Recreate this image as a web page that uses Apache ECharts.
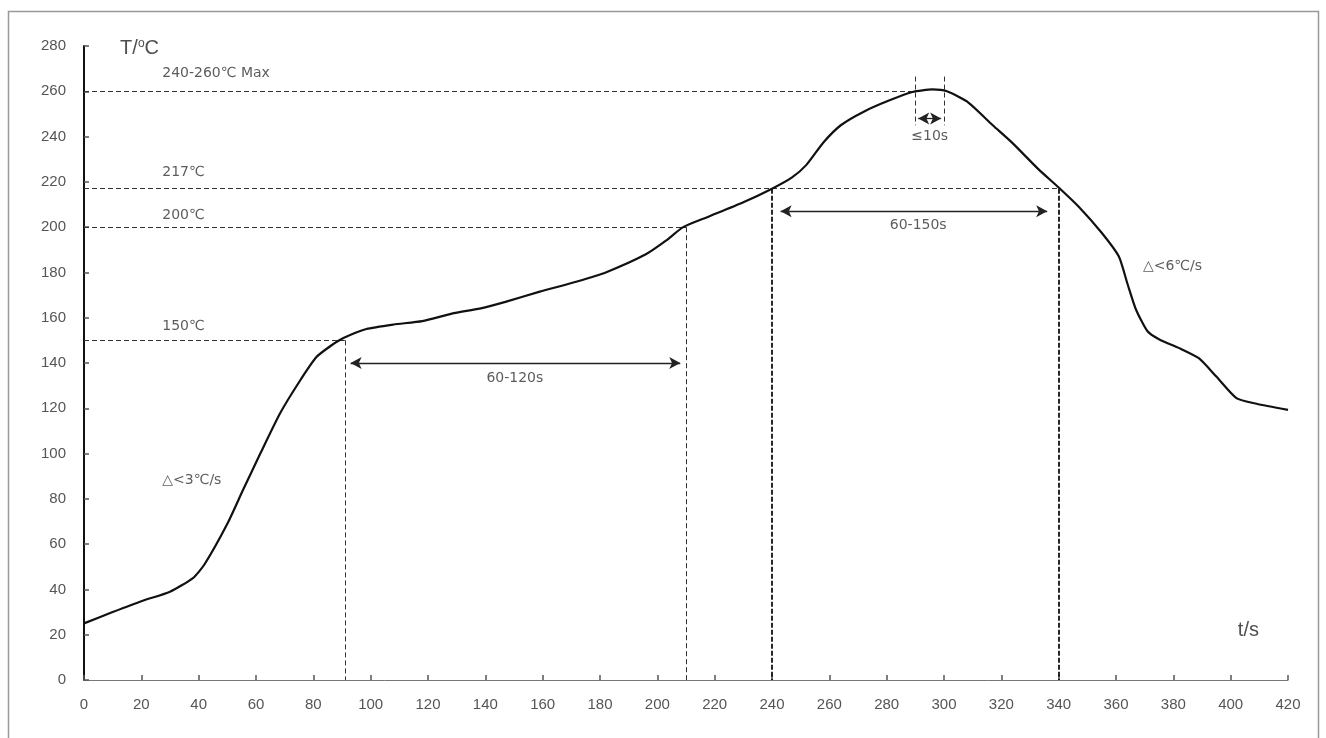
<!DOCTYPE html>
<html><head><meta charset="utf-8">
<script src="https://cdn.jsdelivr.net/npm/echarts@6/dist/echarts.min.js"></script>
<style>html,body{margin:0;padding:0;background:#fff}#c{width:1326px;height:738px}</style>
</head><body><div id="c"></div>
<script>
// Reflow temperature profile (t in s, T in °C)
const profile = [[0,25],[10,30],[20,34.8],[30,39],[38,45],[42,51],[50,69],[55.5,84],[61.5,100],[68.5,118],[75,131.5],[81,142.5],[86,147.5],[90.5,151],[98.5,155],[108,157],[118,158.5],[129,162],[138,164],[147,167],[159,171.5],[172,176],[182,180],[196,188],[203,194],[209,200],[218,204.7],[230,211],[240,217],[247,222],[252,227.5],[258,237.5],[264,245],[272,251],[281,256],[289,259.7],[296,260.8],[301,260],[308,255.5],[317,245],[324,237],[333,225.5],[340,217.5],[347,209],[355,197.5],[361,187],[364,175],[367,163.5],[371,154],[375,150.5],[383,146],[389,142],[395,134],[402,124.5],[409,122],[420,119.3]];
const xTicks = {min:0, max:420, interval:20};
const yTicks = {min:0, max:280, interval:20};
// thin dashed guide lines [[x1,y1],[x2,y2]]
const thinGuides = [
  [[0,260],[290,260]], [[0,217],[340,217]], [[0,200],[210,200]], [[0,150],[91,150]],
  [[91,150],[91,0]], [[210,200],[210,0]], [[290,266.5],[290,245]], [[300,266.5],[300,245]]
];
const thickGuides = [[[240,217],[240,0]], [[340,217],[340,0]]];
const arrows = [[[93,140],[208,140]], [[243,207],[336,207]], [[291,248],[299,248]]];
const notes = [
  {t:27.3, T:267.9, text:'240-260℃ Max', align:'left'},
  {t:27.3, T:224.4, text:'217℃', align:'left'},
  {t:27.3, T:205.4, text:'200℃', align:'left'},
  {t:27.3, T:156, text:'150℃', align:'left'},
  {t:27.3, T:88.3, text:'△<3℃/s', align:'left'},
  {t:369.4, T:182.9, text:'△<6℃/s', align:'left'},
  {t:150.3, T:133.3, text:'60-120s', align:'center'},
  {t:291, T:201, text:'60-150s', align:'center'},
  {t:295, T:240, text:'≤10s', align:'center'}
];
const axisTitles = [
  {t:12.6, T:279, text:'{a|T/}{s|o}{a|C}'},
  {t:402.5, T:22, text:'{a|t/s}'}
];

const chart = echarts.init(document.getElementById('c'));
const toLines = (arr) => arr.map(p => [{coord:p[0]},{coord:p[1]}]);
chart.setOption({
  animation:false,
  backgroundColor:'#fff',
  graphic:[{type:'rect', shape:{x:8.5,y:11.5,width:1310,height:740}, style:{fill:'none', stroke:'#999', lineWidth:1.5}, silent:true}],
  grid:{left:84, right:38, top:46, bottom:58},
  xAxis:{type:'value', min:xTicks.min, max:xTicks.max, interval:xTicks.interval,
    axisLine:{onZero:false, lineStyle:{color:'#777', width:1}},
    axisTick:{inside:true, length:5, lineStyle:{color:'#555', width:1.5}},
    axisLabel:{color:'#555', fontSize:15, margin:17, fontFamily:'Liberation Sans, Arial'},
    splitLine:{show:false}},
  yAxis:{type:'value', min:yTicks.min, max:yTicks.max, interval:yTicks.interval,
    axisLine:{show:true, lineStyle:{color:'#111', width:2}},
    axisTick:{show:true, inside:true, length:5, lineStyle:{color:'#555', width:1.5}},
    axisLabel:{color:'#555', fontSize:15, margin:18, fontFamily:'Liberation Sans, Arial'},
    splitLine:{show:false}},
  series:[
    {type:'line', data:profile, smooth:0.2, symbol:'none', z:5,
      lineStyle:{color:'#111', width:2.2},
      markLine:{silent:true, symbol:'none', animation:false, label:{show:false},
        lineStyle:{color:'#333', width:1, type:[5,3]}, data:toLines(thinGuides)}},
    {type:'line', data:[], markLine:{silent:true, symbol:'none', animation:false, label:{show:false},
        lineStyle:{color:'#111', width:1.8, type:[5,2]}, data:toLines(thickGuides)}},
    {type:'line', data:[], markLine:{silent:true, symbol:['arrow','arrow'], symbolSize:[9,11], animation:false, label:{show:false},
        lineStyle:{color:'#222', width:1.3, type:'solid'}, data:toLines(arrows)}},
    {type:'scatter', symbolSize:0, silent:true, z:6,
      data:notes.map(n => ({value:[n.t,n.T], label:{align:n.align, formatter:n.text}})),
      label:{show:true, position:'inside', verticalAlign:'middle', color:'#333', fontSize:14, fontFamily:'DejaVu Sans'}},
    {type:'scatter', symbolSize:0, silent:true, z:6,
      data:axisTitles.map(n => ({value:[n.t,n.T], label:{formatter:n.text}})),
      label:{show:true, position:'inside', align:'left', verticalAlign:'middle',
        rich:{a:{fontSize:20, color:'#222', fontFamily:'Liberation Sans, Arial'},
              s:{fontSize:12, color:'#222', verticalAlign:'top', padding:[0,0,10,0], fontFamily:'Liberation Sans, Arial'}}}}
  ]
});
</script></body></html>
